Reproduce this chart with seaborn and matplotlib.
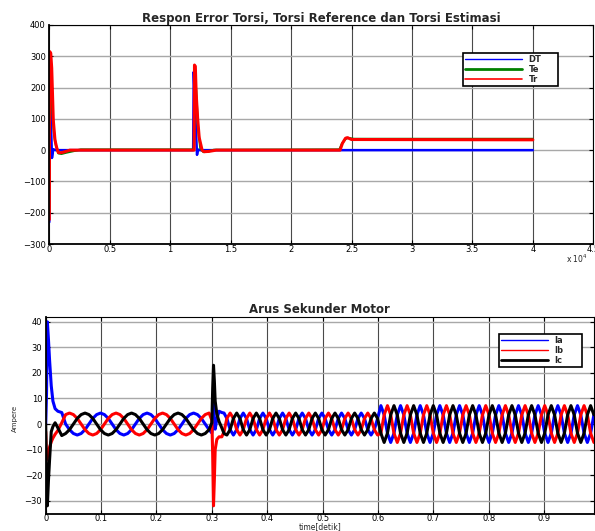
import numpy as np
import pandas as pd
import matplotlib
matplotlib.use("Agg")
import matplotlib.pyplot as plt
from matplotlib.lines import Line2D
from matplotlib.ticker import FuncFormatter, MultipleLocator
import seaborn as sns

sns.set_theme(style="white")
plt.rcParams['font.family'] = ['DejaVu Sans']

# ---------------- data: grafik atas (torsi), x dalam sampel ----------------
dt_x = [0, 50, 130, 220, 330, 500, 11900, 11950, 12100, 12220, 12300, 12450, 24000, 40000]
dt_y = [-230, 280, 100, -25, 3, 0, 0, 250, 90, -15, 2, 0, 0, 0]

te_x = [0, 60, 200, 280, 400, 550, 750, 1000, 1400, 2000, 2600, 11960, 12010, 12150,
        12300, 12500, 12750, 13100, 13600, 24000, 24200, 24500, 24700, 25200, 40000]
te_y = [-200, 220, 165, 110, 50, 15, -10, -12, -8, -3, 2, 2, 240, 190,
        70, 5, -6, -5, 1, 2, 20, 36, 39, 36, 36]

tr_x = [0, 30, 120, 200, 330, 470, 610, 750, 1000, 1300, 1700, 11980, 12010, 12080,
        12150, 12270, 12400, 12640, 12800, 13200, 13800, 24050, 24250, 24500, 24660,
        25000, 40000]
tr_y = [-222, 315, 310, 262, 96, 32, 8, -8, -8, -5, 0, 0, 272, 268,
        180, 102, 40, 0, -5, -4, 0, 0, 22, 38, 40, 34, 33]

top_yticks = [-300, -200, -100, 0, 100, 200, 300, 400]

# ---------------- data: grafik bawah (arus sekunder) ----------------
# transien awal
t_on = [0.0, 0.0015, 0.003, 0.005, 0.007, 0.010, 0.013, 0.017, 0.022, 0.029]
ia_on = [0, 12, 40, 33, 25, 15, 9, 6, 5, 4.5]
ib_on = [-3, -14, -13, -11, -9, -7, -5.5, -4, -2.5, 0.5]
ic_on = [0, -20, -32, -22, -14, -3, -1, 0.5, -1.5, -4.5]

# osilasi 0.036 .. 0.295 s (sampel tiap 0.007 s)
t1_start, t1_step = 0.036, 0.007
ia1 = [0, -2.2, -3.7, -4.3, -3.7, -2.2, 0, 2.2, 3.7, 4.3, 3.7, 2.2,
       0, -2.2, -3.7, -4.3, -3.7, -2.2, 0, 2.2, 3.7, 4.3, 3.7, 2.2,
       0, -2.2, -3.7, -4.3, -3.7, -2.2, 0, 2.2, 3.7, 4.3, 3.7, 2.2,
       0, -2.2]
ib1 = [3.7, 4.3, 3.7, 2.2, 0, -2.2, -3.7, -4.3, -3.7, -2.2, 0, 2.2,
       3.7, 4.3, 3.7, 2.2, 0, -2.2, -3.7, -4.3, -3.7, -2.2, 0, 2.2,
       3.7, 4.3, 3.7, 2.2, 0, -2.2, -3.7, -4.3, -3.7, -2.2, 0, 2.2,
       3.7, 4.3]
ic1 = [-3.7, -2.2, 0, 2.2, 3.7, 4.3, 3.7, 2.2, 0, -2.2, -3.7, -4.3,
       -3.7, -2.2, 0, 2.2, 3.7, 4.3, 3.7, 2.2, 0, -2.2, -3.7, -4.3,
       -3.7, -2.2, 0, 2.2, 3.7, 4.3, 3.7, 2.2, 0, -2.2, -3.7, -4.3,
       -3.7, -2.2]

# transien di 0.3 s
t_mid = [0.300, 0.3015, 0.303, 0.3045, 0.306, 0.309, 0.313, 0.318, 0.322]
ia_mid = [-3.5, -1, 10, 2, -2, 2, 5, 4.5, 4.3]
ib_mid = [1.5, -12, -32, -22, -10, -6, -5, -5, -3]
ic_mid = [0.5, 14, 23, 17, 9, 4, 1, -1.5, -3.7]

# osilasi 0.327 .. 0.99 s (sampel tiap 0.005917 s)
t23_start, t23_step = 0.3271, 0.005917
ia23 = [2.2, -2.2, -4.3, -2.2, 2.2, 4.3,
        2.2, -2.2, -4.3, -2.2, 2.2, 4.3,
        2.2, -2.2, -4.3, -2.2, 2.2, 4.3,
        2.2, -2.2, -4.3, -2.2, 2.2, 4.3,
        2.2, -2.2, -4.3, -2.2, 2.2, 4.3,
        2.2, -2.2, -4.3, -2.2, 2.2, 4.3,
        2.2, -2.2, -4.3, -2.2, 2.2, 4.3,
        2.2, -2.2, -4.3, -2.2, 2.2,
        7.2,
        3.6, -3.6, -7.2, -3.6, 3.6, 7.2,
        3.6, -3.6, -7.2, -3.6, 3.6, 7.2,
        3.6, -3.6, -7.2, -3.6, 3.6, 7.2,
        3.6, -3.6, -7.2, -3.6, 3.6, 7.2,
        3.6, -3.6, -7.2, -3.6, 3.6, 7.2,
        3.6, -3.6, -7.2, -3.6, 3.6, 7.2,
        3.6, -3.6, -7.2, -3.6, 3.6, 7.2,
        3.6, -3.6, -7.2, -3.6, 3.6, 7.2,
        3.6, -3.6, -7.2, -3.6, 3.6, 7.2,
        3.6, -3.6, -7.2, -3.6, 3.6, 7.2,
        3.6, -3.6, -7.2, -3.6, 3.6]
ib23 = [2.2, 4.3, 2.2, -2.2, -4.3, -2.2,
        2.2, 4.3, 2.2, -2.2, -4.3, -2.2,
        2.2, 4.3, 2.2, -2.2, -4.3, -2.2,
        2.2, 4.3, 2.2, -2.2, -4.3, -2.2,
        2.2, 4.3, 2.2, -2.2, -4.3, -2.2,
        2.2, 4.3, 2.2, -2.2, -4.3, -2.2,
        2.2, 4.3, 2.2, -2.2, -4.3, -2.2,
        2.2, 4.3, 2.2, -2.2, -4.3,
        -3.6,
        3.6, 7.2, 3.6, -3.6, -7.2, -3.6,
        3.6, 7.2, 3.6, -3.6, -7.2, -3.6,
        3.6, 7.2, 3.6, -3.6, -7.2, -3.6,
        3.6, 7.2, 3.6, -3.6, -7.2, -3.6,
        3.6, 7.2, 3.6, -3.6, -7.2, -3.6,
        3.6, 7.2, 3.6, -3.6, -7.2, -3.6,
        3.6, 7.2, 3.6, -3.6, -7.2, -3.6,
        3.6, 7.2, 3.6, -3.6, -7.2, -3.6,
        3.6, 7.2, 3.6, -3.6, -7.2, -3.6,
        3.6, 7.2, 3.6, -3.6, -7.2, -3.6,
        3.6, 7.2, 3.6, -3.6, -7.2]
ic23 = [-4.3, -2.2, 2.2, 4.3, 2.2, -2.2,
        -4.3, -2.2, 2.2, 4.3, 2.2, -2.2,
        -4.3, -2.2, 2.2, 4.3, 2.2, -2.2,
        -4.3, -2.2, 2.2, 4.3, 2.2, -2.2,
        -4.3, -2.2, 2.2, 4.3, 2.2, -2.2,
        -4.3, -2.2, 2.2, 4.3, 2.2, -2.2,
        -4.3, -2.2, 2.2, 4.3, 2.2, -2.2,
        -4.3, -2.2, 2.2, 4.3, 2.2,
        -3.6,
        -7.2, -3.6, 3.6, 7.2, 3.6, -3.6,
        -7.2, -3.6, 3.6, 7.2, 3.6, -3.6,
        -7.2, -3.6, 3.6, 7.2, 3.6, -3.6,
        -7.2, -3.6, 3.6, 7.2, 3.6, -3.6,
        -7.2, -3.6, 3.6, 7.2, 3.6, -3.6,
        -7.2, -3.6, 3.6, 7.2, 3.6, -3.6,
        -7.2, -3.6, 3.6, 7.2, 3.6, -3.6,
        -7.2, -3.6, 3.6, 7.2, 3.6, -3.6,
        -7.2, -3.6, 3.6, 7.2, 3.6, -3.6,
        -7.2, -3.6, 3.6, 7.2, 3.6, -3.6,
        -7.2, -3.6, 3.6, 7.2, 3.6]

bot_yticks = [-30, -20, -10, 0, 10, 20, 30, 40]
bot_xticks = [0, 0.1, 0.2, 0.3, 0.4, 0.5, 0.6, 0.7, 0.8, 0.9]

# waktu sampel untuk bagian osilasi (jam sampling tetap)
t1 = list(t1_start + t1_step * np.arange(len(ib1)))
t23 = list(t23_start + t23_step * np.arange(len(ib23)))

arus = pd.DataFrame({
    't': t_on + t1 + t_mid + t23,
    'Ia': ia_on + ia1 + ia_mid + ia23,
    'Ib': ib_on + ib1 + ib_mid + ib23,
    'Ic': ic_on + ic1 + ic_mid + ic23,
})
arus_long = arus.melt(id_vars='t', var_name='fase', value_name='arus')


def gaya_sumbu(ax, xpad=0.8):
    ax.set_facecolor('white')
    ax.set_axisbelow(True)
    ax.xaxis.grid(True, color='#4a4a4a', lw=0.8)
    ax.yaxis.grid(True, color='#a8a8a8', lw=1.0)
    ax.tick_params(direction='in', length=3, width=0.8, top=True, right=True,
                   bottom=True, left=True, labelsize=6, colors='black')
    ax.tick_params(axis='x', pad=xpad)
    ax.tick_params(axis='y', pad=2.5)
    for nama, sp in ax.spines.items():
        sp.set_color('black')
        sp.set_linewidth(1.3 if nama in ('left', 'bottom') else 0.8)
    ax.set_xlabel('')
    ax.set_ylabel('')


def legenda(ax, handles, labels, x0, y0, w, h, hlen):
    leg = ax.legend(handles, labels, loc='lower left', mode='expand',
                    bbox_to_anchor=(x0 / W, 1 - (y0 + h) / H, w / W, h / H),
                    bbox_transform=fig.transFigure, borderaxespad=0,
                    prop={'weight': 'bold', 'size': 6}, handlelength=hlen,
                    handletextpad=0.8, labelspacing=0.12, borderpad=0.25,
                    fancybox=False, framealpha=1, edgecolor='black')
    leg.get_frame().set_linewidth(1.2)
    return leg


fig = plt.figure(figsize=(5.95, 5.31), dpi=100)
W, H = 595.0, 531.0

# ---------------- grafik atas ----------------
ax1 = fig.add_axes([49.3 / W, 1 - 244 / H, 544 / W, 219 / H])
sns.lineplot(x=dt_x, y=dt_y, color='#0000ff', lw=1.8, estimator=None, sort=False, ax=ax1)
sns.lineplot(x=te_x, y=te_y, color='#008000', lw=1.6, estimator=None, sort=False, ax=ax1)
sns.lineplot(x=tr_x, y=tr_y, color='#ff0000', lw=2.2, estimator=None, sort=False, ax=ax1)
ax1.set_xlim(0, 45000)
ax1.set_ylim(-300, 400)
ax1.xaxis.set_major_locator(MultipleLocator(5000))
ax1.xaxis.set_major_formatter(FuncFormatter(lambda v, p: '%g' % (v / 1e4)))
ax1.set_yticks(top_yticks)
gaya_sumbu(ax1)
ax1.set_title('Respon Error Torsi, Torsi Reference dan Torsi Estimasi',
              fontsize=8.5, fontweight='bold', pad=2.5)
fig.text(566 / W, 1 - 259 / H, r'x 10$^4$', fontsize=5.5, ha='left', va='center')

h_top = [Line2D([], [], color='#0000ff', lw=1.0),
         Line2D([], [], color='#008000', lw=2.0),
         Line2D([], [], color='#ff0000', lw=1.2)]
legenda(ax1, h_top, ['DT', 'Te', 'Tr'], 463, 53, 95, 33, 6.8)

# ---------------- grafik bawah ----------------
ax2 = fig.add_axes([45.7 / W, 1 - 513.5 / H, 548.3 / W, 196.8 / H])
sns.lineplot(data=arus_long, x='t', y='arus', hue='fase',
             palette={'Ia': '#0000ff', 'Ib': '#ff0000', 'Ic': '#000000'},
             lw=2.2, estimator=None, sort=False, legend=False, ax=ax2)
ax2.set_xlim(0, 0.99)
ax2.set_ylim(-35, 42)
ax2.set_xticks(bot_xticks)
ax2.xaxis.set_major_formatter(FuncFormatter(lambda v, p: '%g' % v))
ax2.set_yticks(bot_yticks)
gaya_sumbu(ax2, xpad=0.4)
ax2.set_title('Arus Sekunder Motor', fontsize=8.5, fontweight='bold', pad=2.5)
fig.text(320 / W, 0.0, 'time[detik]', fontsize=5.5, ha='center', va='bottom')
fig.text(15 / W, 1 - 418 / H, 'Ampere', fontsize=5, rotation=90, ha='center', va='center')

h_bot = [Line2D([], [], color='#0000ff', lw=1.0),
         Line2D([], [], color='#ff0000', lw=1.0),
         Line2D([], [], color='#000000', lw=2.0)]
legenda(ax2, h_bot, ['Ia', 'Ib', 'Ic'], 499, 335, 83, 32, 5.6)

fig.savefig('out.png', dpi=100, facecolor='white')
